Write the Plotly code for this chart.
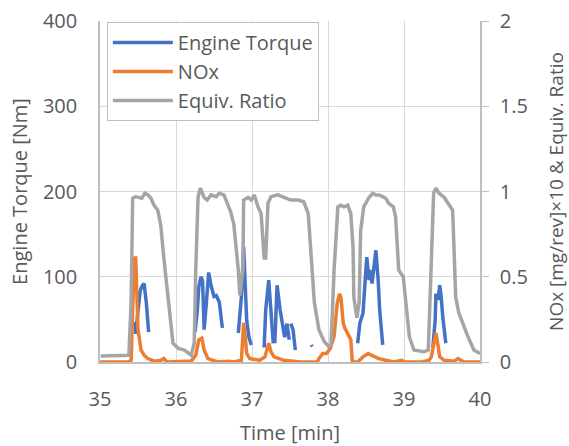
import plotly.graph_objects as go

# Equivalence ratio (right axis)
eq_t = [35.01, 35.34, 35.38, 35.41, 35.43, 35.47, 35.51, 35.55, 35.59, 35.63, 35.67, 35.71, 35.76, 35.80,
        35.84, 35.89, 35.96, 36.03, 36.11, 36.20, 36.24, 36.26, 36.29, 36.32, 36.37, 36.41, 36.46, 36.53,
        36.57, 36.63, 36.68, 36.72, 36.76, 36.82, 36.84, 36.88, 36.89, 36.95, 36.99, 37.03, 37.08, 37.12,
        37.16, 37.18, 37.21, 37.25, 37.34, 37.42, 37.51, 37.61, 37.68, 37.74, 37.78, 37.82, 37.88, 37.95,
        38.01, 38.04, 38.08, 38.13, 38.17, 38.21, 38.26, 38.30, 38.33, 38.34, 38.38, 38.41, 38.43, 38.47,
        38.54, 38.59, 38.63, 38.67, 38.72, 38.76, 38.80, 38.86, 38.89, 38.93, 38.99, 39.03, 39.07, 39.13,
        39.26, 39.32, 39.36, 39.39, 39.42, 39.46, 39.53, 39.58, 39.64, 39.66, 39.68, 39.72, 39.79, 39.84,
        39.92, 40.0]
eq_v = [0.035, 0.04, 0.04, 0.36, 0.96, 0.97, 0.965, 0.96, 0.99, 0.98, 0.96, 0.92, 0.89, 0.80,
        0.61, 0.38, 0.11, 0.08, 0.07, 0.04, 0.11, 0.54, 0.965, 1.02, 0.965, 0.95, 0.98, 0.97,
        0.99, 0.98, 0.92, 0.88, 0.81, 0.54, 0.39, 0.54, 0.95, 0.965, 0.95, 0.98, 0.91, 0.87,
        0.61, 0.61, 0.93, 0.97, 0.98, 0.965, 0.95, 0.95, 0.94, 0.87, 0.64, 0.35, 0.19, 0.12,
        0.09, 0.10, 0.54, 0.91, 0.92, 0.91, 0.92, 0.87, 0.67, 0.38, 0.26, 0.35, 0.77, 0.91,
        0.965, 0.99, 0.98, 0.98, 0.97, 0.96, 0.93, 0.91, 0.85, 0.54, 0.50, 0.30, 0.15, 0.07,
        0.06, 0.07, 0.54, 0.99, 1.02, 0.99, 0.965, 0.93, 0.89, 0.64, 0.38, 0.29, 0.20, 0.15,
        0.07, 0.05]

# Engine torque (left axis), None separates broken segments
tq_t = [35.46, 35.47, 35.50, 35.53, 35.56, 35.58, 35.61, 35.64, None,
        36.25, 36.28, 36.30, 36.33, 36.35, 36.37, 36.40, 36.43, 36.46, 36.50, 36.53, 36.57, 36.61, None,
        36.82, 36.86, 36.89, 36.91, 36.93, 36.96, 36.99, None,
        37.16, 37.18, 37.22, 37.25, 37.28, None,
        37.30, 37.33, 37.37, 37.41, 37.43, 37.46, 37.49, None,
        37.51, 37.54, 37.57, None,
        37.78, 37.79, None,
        38.39, 38.42, 38.46, 38.49, 38.51, 38.54, 38.55, 38.58, 38.61, 38.63, 38.66, 38.68, 38.72, None,
        39.38, 39.41, 39.42, 39.45, 39.47, 39.49, 39.51, 39.55]
tq_v = [47, 33, 60, 84, 90, 92, 69, 35, None,
        35, 60, 88, 100, 95, 38, 70, 105, 90, 77, 78, 70, 40, None,
        34, 76, 135, 76, 49, 29, 20, None,
        17, 61, 96, 61, 22, None,
        22, 90, 61, 41, 29, 45, 26, None,
        45, 38, 14, None,
        20, 18, None,
        22, 46, 57, 96, 123, 96, 108, 92, 116, 131, 96, 61, 20, None,
        17, 49, 80, 73, 90, 76, 53, 22]

# NOx x10 (right axis)
nox_t = [35.0, 35.37, 35.41, 35.43, 35.45, 35.47, 35.49, 35.50, 35.54, 35.58, 35.63, 35.71, 35.80, 35.84,
         35.88, 36.0, 36.12, 36.20, 36.26, 36.30, 36.34, 36.37, 36.42, 36.55, 36.7, 36.76, 36.86, 36.88,
         36.89, 36.91, 36.93, 36.97, 37.1, 37.17, 37.20, 37.22, 37.25, 37.29, 37.42, 37.64, 37.86, 37.88,
         37.93, 37.98, 38.03, 38.08, 38.12, 38.15, 38.17, 38.20, 38.22, 38.26, 38.30, 38.32, 38.39, 38.46,
         38.53, 38.57, 38.61, 38.67, 38.76, 38.86, 38.97, 39.01, 39.24, 39.33, 39.36, 39.41, 39.42, 39.45,
         39.47, 39.53, 39.66, 39.71, 39.79, 40.0]
nox_v = [0.0, 0.0, 0.01, 0.34, 0.61, 0.61, 0.34, 0.19, 0.07, 0.04, 0.02, 0.005, 0.01, 0.02,
         0.0, 0.005, 0.005, 0.005, 0.04, 0.13, 0.14, 0.07, 0.02, 0.0, 0.005, 0.0, 0.01, 0.15,
         0.23, 0.15, 0.05, 0.02, 0.01, 0.03, 0.09, 0.11, 0.06, 0.03, 0.01, 0.0, 0.0, 0.02,
         0.05, 0.05, 0.08, 0.15, 0.34, 0.40, 0.38, 0.23, 0.20, 0.17, 0.13, 0.0, 0.0, 0.03,
         0.05, 0.04, 0.03, 0.02, 0.01, 0.0, 0.01, 0.0, 0.0, 0.01, 0.03, 0.17, 0.17, 0.09,
         0.03, 0.01, 0.005, 0.02, 0.0, 0.0]

FONT = "Open Sans"
TXT = "#595959"
GRID = "#D9D9D9"
AXIS = "#BFBFBF"

fig = go.Figure()
fig.add_trace(go.Scatter(x=tq_t, y=tq_v, name="Engine Torque", mode="lines",
                         line=dict(color="#4472C4", width=3.5), connectgaps=False))
fig.add_trace(go.Scatter(x=nox_t, y=nox_v, name="NOx", mode="lines", yaxis="y2",
                         line=dict(color="#ED7D31", width=3.5)))
fig.add_trace(go.Scatter(x=eq_t, y=eq_v, name="Equiv. Ratio", mode="lines", yaxis="y2",
                         line=dict(color="#A5A5A5", width=3.5)))

fig.update_layout(
    width=569, height=446,
    margin=dict(l=100, r=89, t=21, b=84, autoexpand=False),
    paper_bgcolor="white", plot_bgcolor="white",
    font=dict(family=FONT, size=20, color=TXT),
    showlegend=True,
    legend=dict(x=0.018, y=0.997, xanchor="left", yanchor="top",
                bordercolor=AXIS, borderwidth=1, bgcolor="white",
                font=dict(size=20, color=TXT), itemwidth=60, tracegroupgap=0),
    xaxis=dict(range=[35, 40], dtick=1, tick0=35, showgrid=True, gridcolor=GRID, gridwidth=1,
               zeroline=False, showline=True, linecolor=AXIS, linewidth=1.5, ticks="",
               ticklabelstandoff=18, automargin=False,
               title=dict(text="Time [min]", font=dict(size=20, color=TXT), standoff=16)),
    yaxis=dict(range=[0, 400], dtick=100, showgrid=True, gridcolor=GRID, zeroline=False,
               showline=True, linecolor=AXIS, linewidth=1.5, ticks="", ticklabelstandoff=17,
               automargin=False,
               title=dict(text="Engine Torque [Nm]", font=dict(size=20, color=TXT), standoff=10)),
    yaxis2=dict(range=[0, 2], dtick=0.5, overlaying="y", side="right", showgrid=False,
                zeroline=False, showline=True, linecolor=AXIS, linewidth=1.5,
                ticks="outside", ticklen=7, tickcolor=AXIS, ticklabelstandoff=7, automargin=False,
                title=dict(text="NOx [mg/rev]×10 & Equiv. Ratio", font=dict(size=19, color=TXT),
                           standoff=28)),
)
fig.write_html("out.html")
